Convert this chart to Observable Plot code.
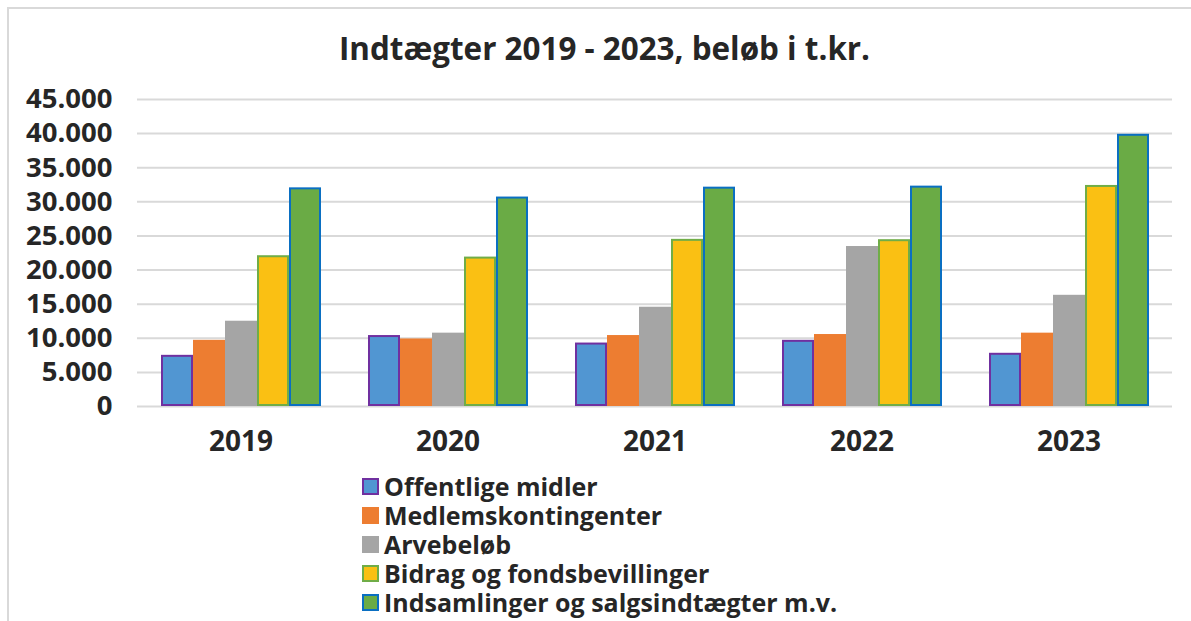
<!DOCTYPE html>
<html>
<head>
<meta charset="utf-8">
<script src="https://cdn.jsdelivr.net/npm/d3@7"></script>
<script src="https://cdn.jsdelivr.net/npm/@observablehq/plot@0.6"></script>
<style>
  html, body { margin: 0; padding: 0; background: #fff; }
  body { width: 1191px; height: 621px; overflow: hidden; position: relative; font-family: "Open Sans", sans-serif; font-weight: 700; color: #262626; }
  #frame { position: absolute; left: 7px; top: 7px; width: 1200px; height: 700px; border-left: 2px solid #d9d9d9; border-top: 2px solid #d9d9d9; }
  #title { position: absolute; left: 9px; width: 1191px; top: 26px; text-align: center; font-size: 31.4px; line-height: 44px; }
  #chart { position: absolute; left: 0; top: 70px; }
  #legend { position: absolute; left: 362px; top: 472px; font-size: 25px; line-height: 29px; }
  .row { display: flex; align-items: center; height: 29px; line-height: 29px; }
  .sw { width: 13px; height: 13px; margin-right: 5px; border: 2px solid; box-sizing: content-box; }
</style>
</head>
<body>
<div id="frame"></div>
<div id="title">Indtægter 2019 - 2023, beløb i t.kr.</div>
<div id="chart"></div>
<div id="legend"></div>
<script>
const years = ["2019", "2020", "2021", "2022", "2023"];
const seriesNames = ["Offentlige midler", "Medlemskontingenter", "Arvebeløb", "Bidrag og fondsbevillinger", "Indsamlinger og salgsindtægter m.v."];
const offentlige = [7500, 10400, 9300, 9700, 7800];
const medlemskontingenter = [9700, 9900, 10400, 10550, 10750];
const arvebelob = [12500, 10750, 14550, 23450, 16300];
const bidrag = [22100, 21900, 24500, 24450, 32400];
const indsamlinger = [32050, 30700, 32150, 32300, 39900];
const yTicks = [0, 5000, 10000, 15000, 20000, 25000, 30000, 35000, 40000, 45000];
const fills = ["#5196D2", "#ED7D31", "#A5A5A5", "#FAC013", "#6AAB45"];
const strokes = ["#7030A0", "#ED7D31", "#A5A5A5", "#70AD47", "#0A6FC2"];

const values = [offentlige, medlemskontingenter, arvebelob, bidrag, indsamlinger];
const data = [];
years.forEach((yr, i) => seriesNames.forEach((s, j) => data.push({year: yr, series: s, value: values[j][i]})));

const fmt = d3.formatLocale({thousands: ".", decimal: ",", grouping: [3], currency: ["", ""]}).format(",d");

const chart = Plot.plot({
  width: 1191,
  height: 400,
  marginLeft: 137,
  marginRight: 19,
  marginTop: 29,
  marginBottom: 64,
  style: {fontFamily: "'Open Sans', sans-serif", fontWeight: 700, color: "#262626", background: "transparent"},
  fx: {domain: years, padding: 0, label: null, axis: null},
  x: {domain: seriesNames, paddingInner: 0, paddingOuter: 0.73, axis: null},
  y: {domain: [0, 45000], axis: null, label: null},
  color: {domain: seriesNames, range: fills},
  marks: [
    Plot.ruleY(yTicks, {stroke: "#d9d9d9", strokeWidth: 2, strokeOpacity: 1}),
    Plot.barY(data, {fx: "year", x: "series", y: "value", fill: "series", stroke: d => strokes[seriesNames.indexOf(d.series)], strokeWidth: 2, inset: 1}),
    Plot.axisY({ticks: yTicks, tickFormat: fmt, tickSize: 0, tickPadding: 25, fontSize: 27.5, fontWeight: 700, label: null, facetAnchor: "left"}),
    Plot.axisFx({anchor: "bottom", tickSize: 0, tickPadding: 25, fontSize: 28, fontWeight: 700, label: null})
  ]
});
document.getElementById("chart").appendChild(chart);

const leg = document.getElementById("legend");
seriesNames.forEach((s, j) => {
  const row = document.createElement("div");
  row.className = "row";
  const sw = document.createElement("span");
  sw.className = "sw";
  sw.style.background = fills[j];
  sw.style.borderColor = strokes[j];
  const t = document.createElement("span");
  t.textContent = s;
  row.appendChild(sw);
  row.appendChild(t);
  leg.appendChild(row);
});
</script>
</body>
</html>
